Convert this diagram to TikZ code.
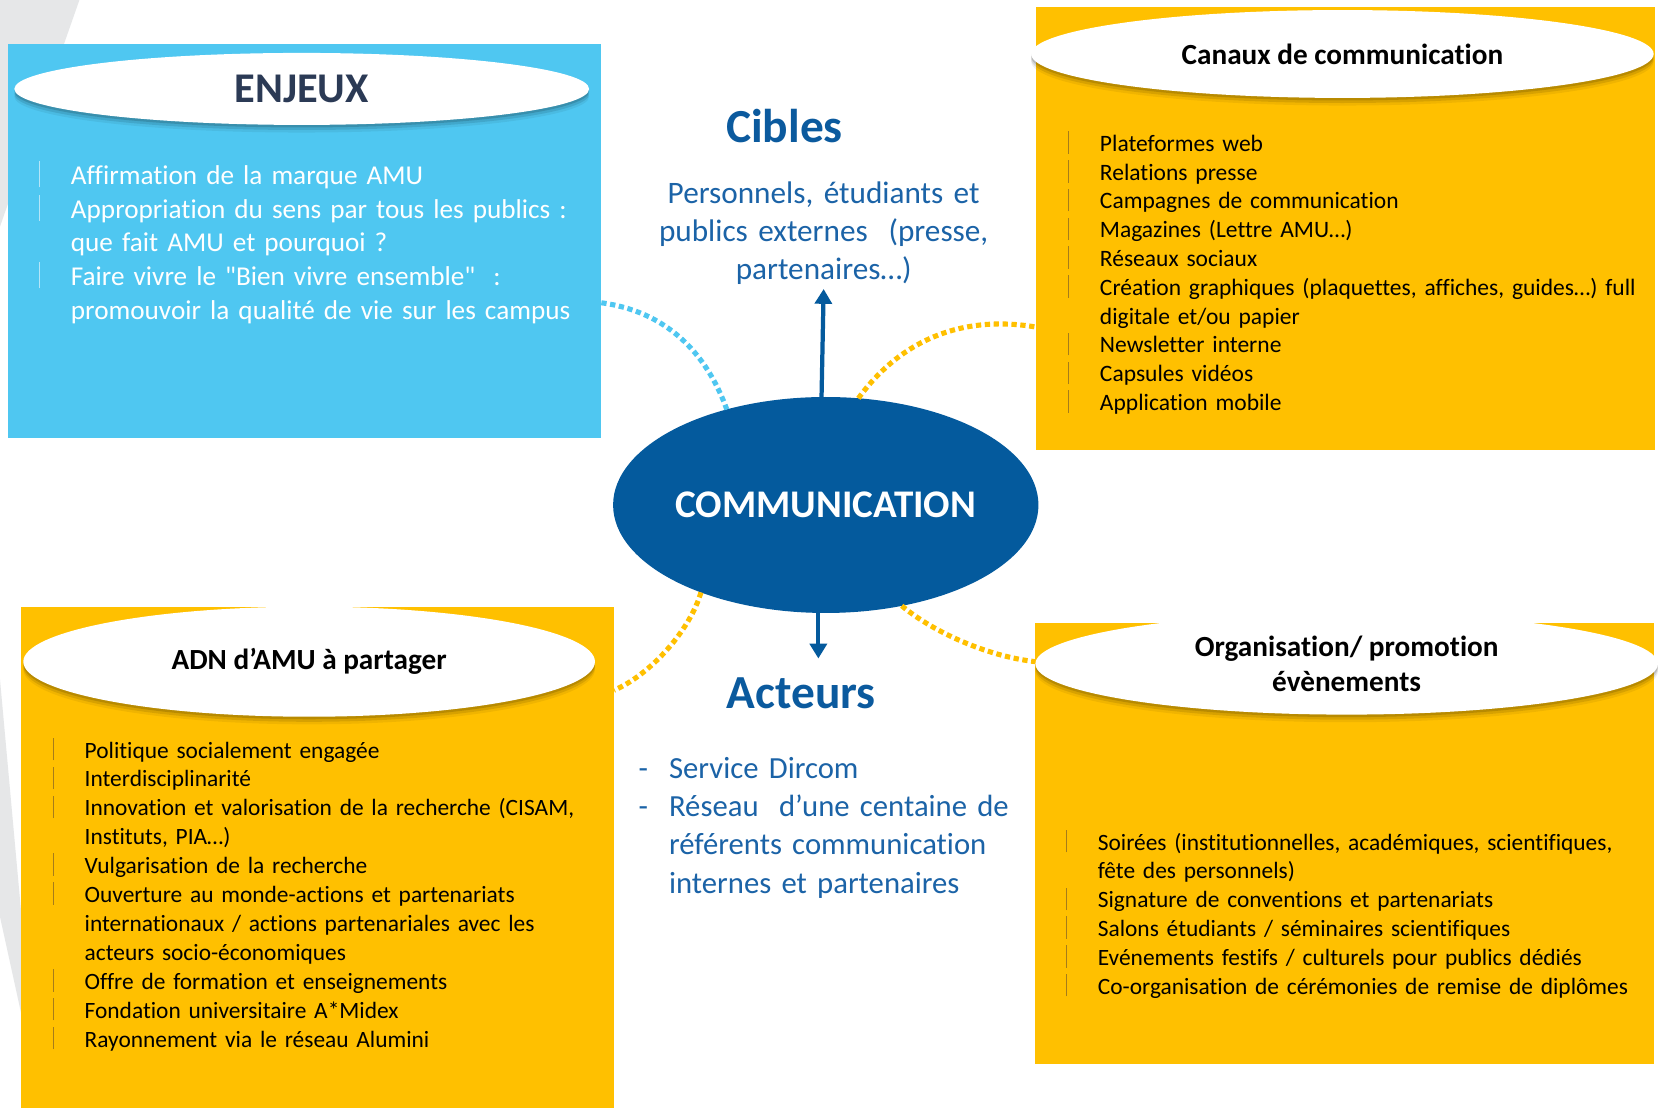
\documentclass[tikz,border=0pt]{standalone}
\usepackage{fontspec}
\setmainfont{Carlito}[Ligatures={TeXOff,NoCommon}]
\usetikzlibrary{shapes.geometric,arrows.meta,shadows,calc}
\definecolor{amuyellow}{HTML}{FFC000}
\definecolor{amucyan}{HTML}{4FC7F1}
\definecolor{amublue}{HTML}{045A9D}
\definecolor{amutext}{HTML}{1B63A7}
\definecolor{amuhead}{HTML}{0B5A9E}
\definecolor{amunavy}{HTML}{2B3A55}
\definecolor{amugrey}{HTML}{E6E7E8}
\definecolor{barbrown}{HTML}{A67C1A}
\definecolor{barlight}{HTML}{B4E5F8}
\newcommand\lbar[1]{\makebox[0pt][r]{\textcolor{#1}{\vrule width 0.6pt height 0.86em depth 0.1em}\hspace{14.5pt}}}
\newcommand\ldash{\makebox[0pt][r]{-\hspace{10pt}}}
\begin{document}
\begin{tikzpicture}[x=0.5pt,y=-0.5pt,
  panel/.style={rectangle, anchor=north west, inner sep=0, outer sep=0},
  hdr/.style={ellipse, fill=white, inner sep=0, outer sep=0, align=center,
     font=\bfseries\fontsize{13.8}{16.5}\selectfont,
     drop shadow={shadow xshift=0pt, shadow yshift=-1.2pt, opacity=0.14, fill=black},
     drop shadow={shadow xshift=0pt, shadow yshift=-2.4pt, opacity=0.10, fill=black},
     drop shadow={shadow xshift=0pt, shadow yshift=-3.6pt, opacity=0.06, fill=black}},
  itemlist/.style={anchor=base west, inner sep=0, outer sep=0, align=left},
  dotc/.style={line width=2.4pt, dash pattern=on 2.5pt off 1.7pt},
  arr/.style={line width=2pt, draw=amublue, -{Triangle[width=8pt,length=7pt]}},
  heading/.style={text=amuhead, font=\bfseries\fontsize{22.4}{26}\selectfont, inner sep=0}
]
\useasboundingbox (0,0) rectangle (1568,1047);
\fill[white] (0,0) rectangle (1568,1047);
% grey background swooshes
\fill[amugrey] (0,0) -- (75,0) -- (0,214) -- cycle;
\fill[amugrey] (0,642) -- (25,917) -- (25,980) -- (0,866) -- cycle;

% panels
\node[panel, fill=amucyan, minimum width=280pt, minimum height=186pt] (enjbox) at (8,42) {};
\node[panel, fill=amuyellow, minimum width=292pt, minimum height=209pt] (canbox) at (979,7) {};
\node[panel, fill=amuyellow, minimum width=280pt, minimum height=237pt] (adnbox) at (20,573) {};
\node[panel, fill=amuyellow, minimum width=292pt, minimum height=208.5pt] (orgbox) at (978,588) {};

% central ellipse
\node[ellipse, fill=amublue, minimum width=200pt, minimum height=102pt, inner sep=0, outer sep=0,
      text=white, font=\bfseries\fontsize{18.5}{22}\selectfont] (comm) at (780,477) {COMMUNICATION};

% dotted connectors
\draw[dotc, amucyan] ($(enjbox.north east)+(0,244)$) .. controls +(60,8) and +(-20,-55) .. (comm.136);
\draw[dotc, amuyellow] (comm.73.5) .. controls +(40,-55) and +(-70,-12) .. ($(canbox.north west)+(0,302)$);
\draw[dotc, amuyellow] (comm.215) .. controls +(-10,35) and +(35,-15) .. ($(adnbox.north east)+(0,79)$);
\draw[dotc, amuyellow] (comm.-53.9) .. controls +(30,25) and +(-45,-5) .. ($(orgbox.north west)+(0,37)$);

% header ellipses
\node[hdr, minimum width=271.5pt, minimum height=34pt, text=amunavy,
      font=\bfseries\fontsize{20}{24}\selectfont] (enjhdr) at (285,84) {ENJEUX};
\node[hdr, minimum width=294pt, minimum height=41.5pt] (canhdr) at (1268,51) {Canaux de communication};
\node[hdr, minimum width=270pt, minimum height=52pt] (adnhdr) at (292,625) {ADN d’AMU à partager};
\node[hdr, minimum width=294pt, minimum height=48pt] (orghdr) at (1272,627) {Organisation/ promotion\\évènements};

% lists
\node[itemlist, text=white, text width=270pt, font=\fontsize{12.85}{15.875}\selectfont] (enjlist) at (67,174.5)
  {\lbar{barlight}Affirmation de la marque AMU\\
   \lbar{barlight}Appropriation du sens par tous les publics :\\
   que fait AMU et pourquoi ?\\
   \lbar{barlight}Faire vivre le "Bien vivre ensemble"\ \ :\\
   promouvoir la qualité de vie sur les campus};
\node[itemlist, text=black, text width=280pt, font=\fontsize{11.1}{13.6}\selectfont] (canlist) at (1039,143)
  {\lbar{barbrown}Plateformes web\\
   \lbar{barbrown}Relations presse\\
   \lbar{barbrown}Campagnes de communication\\
   \lbar{barbrown}Magazines (Lettre AMU…)\\
   \lbar{barbrown}Réseaux sociaux\\
   \lbar{barbrown}Création graphiques (plaquettes, affiches, guides…) full\\
   digitale et/ou papier\\
   \lbar{barbrown}Newsletter interne\\
   \lbar{barbrown}Capsules vidéos\\
   \lbar{barbrown}Application mobile};
\node[itemlist, text=black, text width=270pt, font=\fontsize{11.05}{13.65}\selectfont] (adnlist) at (80,716)
  {\lbar{barbrown}Politique socialement engagée\\
   \lbar{barbrown}Interdisciplinarité\\
   \lbar{barbrown}Innovation et valorisation de la recherche (CISAM,\\
   Instituts, PIA…)\\
   \lbar{barbrown}Vulgarisation de la recherche\\
   \lbar{barbrown}Ouverture au monde-actions et partenariats\\
   internationaux / actions partenariales avec les\\
   acteurs socio-économiques\\
   \lbar{barbrown}Offre de formation et enseignements\\
   \lbar{barbrown}Fondation universitaire A*Midex\\
   \lbar{barbrown}Rayonnement via le réseau Alumini};
\node[itemlist, text=black, text width=280pt, font=\fontsize{11.05}{13.6}\selectfont] (orglist) at (1037,803)
  {\lbar{barbrown}Soirées (institutionnelles, académiques, scientifiques,\\
   fête des personnels)\\
   \lbar{barbrown}Signature de conventions et partenariats\\
   \lbar{barbrown}Salons étudiants / séminaires scientifiques\\
   \lbar{barbrown}Evénements festifs / culturels pour publics dédiés\\
   \lbar{barbrown}Co-organisation de cérémonies de remise de diplômes};

% Cibles / Acteurs
\node[heading] (cibles) at (741,119) {Cibles};
\node[anchor=base, align=center, text width=200pt, inner sep=0, text=amutext,
      font=\fontsize{14.75}{18}\selectfont] (cibtxt) at (778,192)
  {Personnels, étudiants et\\publics externes\ \ (presse,\\partenaires…)};
\node[heading] (acteurs) at (757,655) {Acteurs};
\node[itemlist, text width=180pt, text=amutext, font=\fontsize{14.5}{18.15}\selectfont] (acttxt) at (632,735)
  {\ldash Service Dircom\\
   \ldash Réseau\ \ d’une centaine de\\
   référents communication\\
   internes et partenaires};

% arrows
\coordinate (cibtip) at (778,273);
\coordinate (acttip) at (773,622);
\draw[arr] ([xshift=-2pt]comm.north) -- (cibtip);
\draw[arr] ([xshift=-3.5pt]comm.south) -- (acttip);
\end{tikzpicture}
\end{document}
